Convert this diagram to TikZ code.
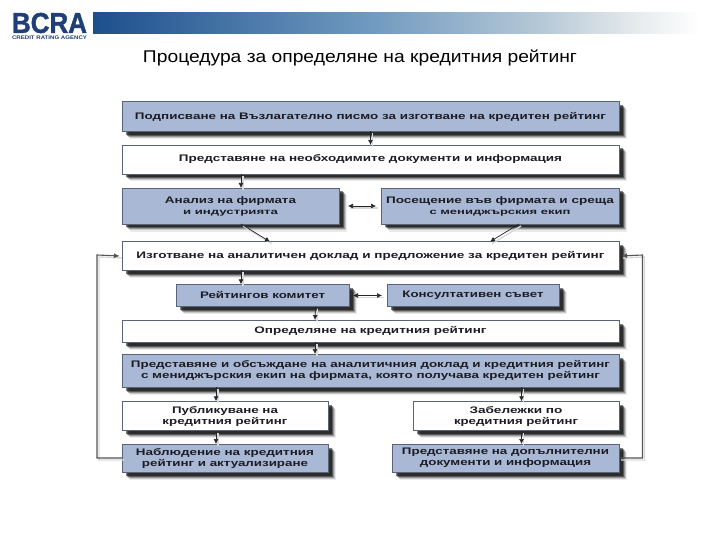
\documentclass[tikz,border=0pt]{standalone}
\usepackage{fontspec}
\usepackage{graphicx}
\usetikzlibrary{arrows.meta,shadows}
\setmainfont{Liberation Sans}
\definecolor{boxblue}{HTML}{A9B8D4}
\definecolor{boxedge}{HTML}{5A6478}
\definecolor{logoblue}{HTML}{1F3F78}
\definecolor{inktext}{HTML}{1C1C24}
\definecolor{feedline}{HTML}{555555}
\pgfdeclarehorizontalshading{bandshade}{100bp}{
  rgb(0bp)=(.114,.31,.549);
  rgb(25bp)=(.114,.31,.549);
  rgb(46.3bp)=(.424,.592,.745);
  rgb(60.6bp)=(.71,.784,.839);
  rgb(68.6bp)=(.91,.925,.937);
  rgb(73.4bp)=(1,1,1);
  rgb(100bp)=(1,1,1)}
\newcommand{\fitline}[2]{\resizebox{#1pt}{\height}{#2}}
\tikzset{
  boxbase/.style={rectangle,draw=boxedge,line width=.6pt,inner sep=0pt,outer sep=0pt,
    align=center,text=inktext,font=\fontsize{9.5}{11}\bfseries\selectfont,
    general shadow={fill=black,opacity=.08,shadow xshift=7.5pt,shadow yshift=-7.5pt},
    general shadow={fill=black,opacity=.15,shadow xshift=6.5pt,shadow yshift=-6.5pt},
    general shadow={fill=black,opacity=.25,shadow xshift=5.5pt,shadow yshift=-5.5pt},
    general shadow={fill=black,opacity=.4,shadow xshift=4.5pt,shadow yshift=-4.5pt},
    general shadow={fill=black,opacity=.5,shadow xshift=3.5pt,shadow yshift=-3.5pt}},
  bluebox/.style={boxbase,fill=boxblue},
  whitebox/.style={boxbase,fill=white},
  smudge/.style={preaction={draw=black!15,line width=1.4pt,-,transform canvas={shift={(2pt,-2pt)}}}},
  arrowline/.style={smudge,draw=black!85,line width=.7pt,-{Latex[length=5pt,width=5pt]}},
  twoway/.style={smudge,draw=black!85,line width=.7pt,{Latex[length=5pt,width=5pt]}-{Latex[length=5pt,width=5pt]}},
  feedback/.style={smudge,draw=feedline,line width=1.1pt,-{Latex[length=6pt,width=5pt]}}
}
\begin{document}
\begin{tikzpicture}[x=1pt,y=-1pt]
\useasboundingbox (0,0) rectangle (720,540);
\fill[white] (0,0) rectangle (720,540);
% header
\shade[shading=bandshade] (93,13) rectangle (720,34);
\node[inner sep=0pt,text=logoblue,font=\bfseries\addfontfeature{FakeBold=1.5}] (logo) at (49.5,23) {\resizebox{75pt}{20pt}{BCRA}};
\node[inner sep=0pt,text=logoblue,font=\bfseries] (agency) at (49.5,37.6) {\resizebox{75pt}{3.6pt}{CREDIT RATING AGENCY}};
\node[inner sep=0pt,text=black,font=\fontsize{17}{20}\selectfont] (title) at (360,57.5) {\fitline{434}{Процедура за определяне на кредитния рейтинг}};
% boxes
\node[bluebox,minimum width=497pt,minimum height=29.5pt] (b1) at (370.5,116.5) {\fitline{471}{Подписване на Възлагателно писмо за изготване на кредитен рейтинг}};
\node[whitebox,minimum width=497pt,minimum height=29pt] (b2) at (370.5,159.5) {\fitline{383}{Представяне на необходимите документи и информация}};
\node[bluebox,minimum width=217pt,minimum height=36pt] (b3) at (230.5,206) {\fitline{131}{Анализ на фирмата}\\\fontsize{8}{11}\selectfont\fitline{95}{и индустрията}};
\node[bluebox,minimum width=238pt,minimum height=36pt] (b4) at (500,206) {\fitline{228}{Посещение във фирмата и среща}\\\fontsize{8}{11}\selectfont\fitline{141}{с мениджърския екип}};
\node[whitebox,minimum width=497pt,minimum height=28.5pt] (b5) at (370.5,256) {\fitline{468}{Изготване на аналитичен доклад и предложение за кредитен рейтинг}};
\node[bluebox,minimum width=173pt,minimum height=22.5pt] (b6) at (262.5,295.5) {\fitline{125}{Рейтингов комитет}};
\node[bluebox,minimum width=172pt,minimum height=22.5pt] (b7) at (473,295.5) {\fitline{141}{Консултативен съвет}};
\node[whitebox,minimum width=497pt,minimum height=22pt] (b8) at (370.5,331) {\fitline{232}{Определяне на кредитния рейтинг}};
\node[bluebox,minimum width=497pt,minimum height=33pt] (b9) at (370.5,370.5) {\fitline{479}{Представяне и обсъждане на аналитичния доклад и кредитния рейтинг}\\\fitline{459}{с мениджърския екип на фирмата, която получава кредитен рейтинг}};
\node[whitebox,minimum width=206pt,minimum height=29.5pt] (b10) at (225,416) {\fitline{106}{Публикуване на}\\\fitline{125}{кредитния рейтинг}};
\node[bluebox,minimum width=206pt,minimum height=28pt] (b11) at (225,458) {\fitline{178}{Наблюдение на кредитния}\\\fitline{166}{рейтинг и актуализиране}};
\node[whitebox,minimum width=206pt,minimum height=29.5pt] (b12) at (516,416) {\fitline{93}{Забележки по}\\\fitline{124}{кредитния рейтинг}};
\node[bluebox,minimum width=227pt,minimum height=28pt] (b13) at (505.5,458) {\fitline{207}{Представяне на допълнителни}\\\fitline{171}{документи и информация}};
% connectors
\draw[arrowline] (b1.south) -- (b2.north);
\draw[arrowline] ([xshift=-129.5pt]b2.south) -- ([xshift=10.5pt]b3.north);
\draw[twoway] ([xshift=9pt]b3.east) -- ([xshift=-5pt]b4.west);
\draw[arrowline] ([xshift=10.5pt]b3.south) -- ([xshift=-100.5pt]b5.north);
\draw[arrowline] ([xshift=19pt]b4.south) -- ([xshift=119.5pt]b5.north);
\draw[arrowline] ([xshift=-129.5pt]b5.south) -- ([xshift=-21.5pt]b6.north);
\draw[twoway] ([xshift=4pt]b6.east) -- ([xshift=-5pt]b7.west);
\draw[arrowline] ([xshift=53pt]b6.south) -- ([xshift=-55.5pt]b8.north);
\draw[arrowline] ([xshift=-55.5pt]b8.south) -- ([xshift=-55.5pt]b9.north);
\draw[arrowline] ([xshift=-154.5pt]b9.south) -- ([xshift=-9pt]b10.north);
\draw[arrowline] ([xshift=-9pt]b10.south) -- ([xshift=-9pt]b11.north);
\draw[arrowline] ([xshift=151pt]b9.south) -- ([xshift=5.5pt]b12.north);
\draw[arrowline] ([xshift=5.5pt]b12.south) -- ([xshift=16pt]b13.north);
\draw[feedback] (b11.west) -| (97,255) -- ([xshift=-2pt]b5.west);
\draw[feedback] (b13.east) -| (642.5,255) -- ([xshift=2pt]b5.east);
\end{tikzpicture}
\end{document}
